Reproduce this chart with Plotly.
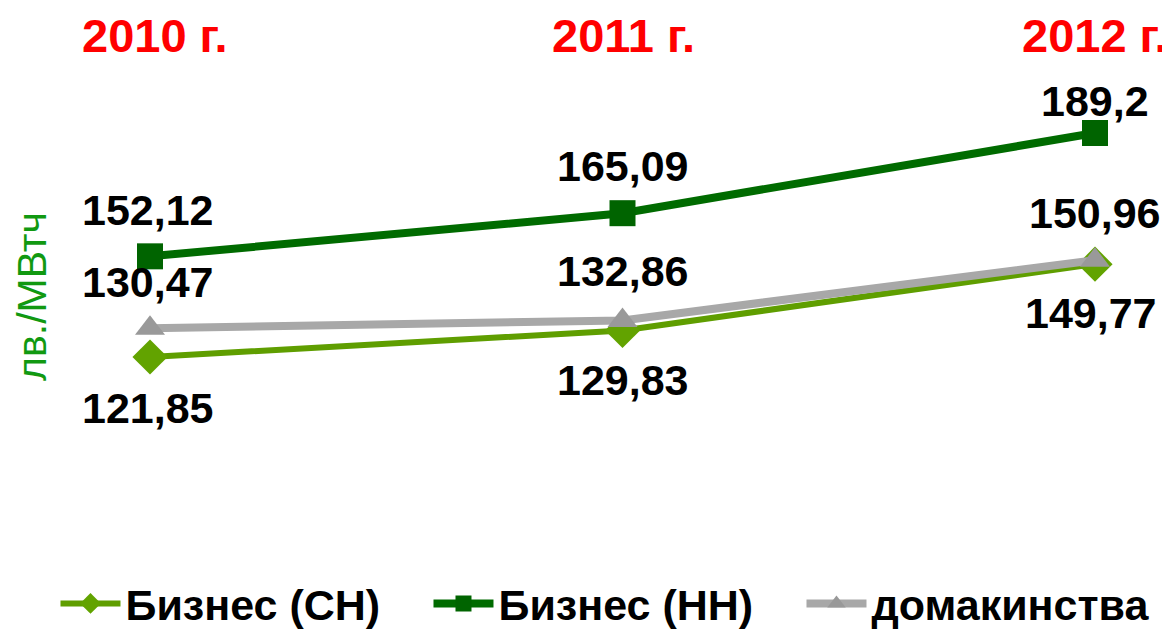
import plotly.graph_objects as go

years = ["2010 г.", "2011 г.", "2012 г."]
series_names = ["Бизнес (СН)", "Бизнес (НН)", "домакинства"]
biz_sn = [121.85, 129.83, 149.77]
biz_nn = [152.12, 165.09, 189.2]
households = [130.47, 132.86, 150.96]
label_sn = ["121,85", "129,83", "149,77"]
label_nn = ["152,12", "165,09", "189,2"]
label_hh = ["130,47", "132,86", "150,96"]

xs = [0, 1, 2]
FONT = "Liberation Sans, Arial, sans-serif"

fig = go.Figure()
fig.add_trace(go.Scatter(x=xs, y=biz_sn, name=series_names[0], mode="lines+markers",
                         line=dict(color="#5f9e00", width=6),
                         marker=dict(symbol="diamond", size=27, color="#62a300")))
fig.add_trace(go.Scatter(x=xs, y=biz_nn, name=series_names[1], mode="lines+markers",
                         line=dict(color="#006b00", width=8),
                         marker=dict(symbol="square", size=26, color="#006400")))
fig.add_trace(go.Scatter(x=xs, y=households, name=series_names[2], mode="lines+markers",
                         line=dict(color="#a8a8a8", width=8),
                         marker=dict(symbol="triangle-up", size=26, color="#999999")))

ann = []
for i, t in enumerate(years):
    ann.append(dict(x=xs[i], y=1, xref="x", yref="paper", yanchor="top", yshift=0,
                    xshift=[5, 1, 0][i], borderpad=0,
                    text=f"<b>{t}</b>", showarrow=False,
                    font=dict(family=FONT, size=47, color="#ff0000")))
lab_font = dict(family=FONT, size=43, color="#000000")
xshift_nn = [-2, 0, 0]
xshift_hh = [-2, 0, 0]
xshift_sn = [-2, 0, -4]
for i in range(3):
    ann.append(dict(x=xs[i], y=biz_nn[i], text=f"<b>{label_nn[i]}</b>", showarrow=False,
                    yshift=[46, 47, 32][i], xshift=xshift_nn[i], font=lab_font))
    ann.append(dict(x=xs[i], y=households[i], text=f"<b>{label_hh[i]}</b>", showarrow=False,
                    yshift=[46, 49, 47][i], xshift=xshift_hh[i], font=lab_font))
    ann.append(dict(x=xs[i], y=biz_sn[i], text=f"<b>{label_sn[i]}</b>", showarrow=False,
                    yshift=[-51, -50, -49][i], xshift=xshift_sn[i], font=lab_font))
ann.append(dict(x=0.0205, y=0.543, xref="paper", yref="paper", xanchor="center", yanchor="middle",
                text="лв./МВтч", textangle=-90,
                showarrow=False, font=dict(family=FONT, size=41, color="#119911")))

fig.update_layout(
    width=1170, height=630,
    margin=dict(l=0, r=0, t=0, b=0),
    paper_bgcolor="#ffffff", plot_bgcolor="#ffffff",
    xaxis=dict(range=[-0.30053, 2.17566], visible=False),
    yaxis=dict(range=[37.37, 226.78], visible=False),
    showlegend=True,
    legend=dict(orientation="h", x=0.997, xanchor="right", y=0.0, yanchor="bottom",
                font=dict(family=FONT, size=43, color="#000000", weight="bold"),
                itemwidth=60, entrywidth=298, entrywidthmode="pixels",
                bgcolor="rgba(0,0,0,0)", tracegroupgap=0),
    annotations=ann,
)
fig.write_html("out.html")
